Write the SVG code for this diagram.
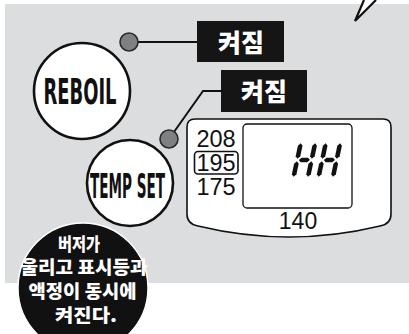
<svg xmlns="http://www.w3.org/2000/svg" width="409" height="334" viewBox="0 0 409 334">
<style>
.bg{fill:#dcdddf}
.btn{fill:#fff;stroke:#111;stroke-width:2.6}
.btxt{font-family:"DejaVu Sans Condensed","DejaVu Sans","Liberation Sans",sans-serif;font-weight:bold;fill:#111;text-anchor:middle}
.dot{fill:#7e8083;stroke:#2a2a2a;stroke-width:1.6}
.lbl{fill:#151515}
.ktxt{font-family:"Noto Sans CJK KR","Noto Sans",sans-serif;font-weight:900;fill:#fff;text-anchor:middle}
.num{font-family:"Liberation Sans",Arial,sans-serif;fill:#111;text-anchor:middle}
.conn{fill:none;stroke:#111;stroke-width:2}
.seg{fill:#111}
</style>
<defs>
<g id="digitH">
<polygon class="seg" points="2.3,0.3 4.6,2.8 4.6,13.2 2.3,15.7 0,13.2 0,2.8"/>
<polygon class="seg" points="2.3,18.3 4.6,20.8 4.6,31.2 2.3,33.7 0,31.2 0,20.8"/>
<polygon class="seg" points="16.7,0.3 19,2.8 19,13.2 16.7,15.7 14.4,13.2 14.4,2.8"/>
<polygon class="seg" points="16.7,18.3 19,20.8 19,31.2 16.7,33.7 14.4,31.2 14.4,20.8"/>
<polygon class="seg" points="4,17 6.2,14.8 12.8,14.8 15,17 12.8,19.2 6.2,19.2"/>
</g>
</defs>
<rect class="bg" x="5" y="4" width="404" height="279"/>
<g id="callout-tail">
<polygon points="364,0 376,0 355,21" fill="#fff"/>
<polyline points="364,0 355,21 376,0" fill="none" stroke="#111" stroke-width="2.2" stroke-linejoin="miter"/>
</g>
<g id="connectors">
<line class="conn" x1="129" y1="42" x2="198" y2="42"/>
<polyline class="conn" points="222,91 203,91 169,139"/>
</g>
<g id="lamp-reboil">
<circle class="dot" cx="129" cy="42" r="9"/>
</g>
<g id="lamp-tempset">
<circle class="dot" cx="169" cy="139" r="9"/>
</g>
<g id="label-on-1">
<rect class="lbl" x="197" y="21" width="87" height="41"/>
<text class="ktxt" x="241" y="52" font-size="25">켜짐</text>
</g>
<g id="label-on-2">
<rect class="lbl" x="221" y="70" width="86" height="42"/>
<text class="ktxt" x="264" y="101" font-size="25">켜짐</text>
</g>
<g id="btn-reboil">
<circle class="btn" cx="82" cy="91" r="48"/>
<text class="btxt" x="80" y="104" font-size="36" textLength="73" lengthAdjust="spacingAndGlyphs">REBOIL</text>
</g>
<g id="btn-tempset">
<circle class="btn" cx="130" cy="183" r="43"/>
<text class="btxt" x="127.5" y="198" font-size="33" textLength="75" lengthAdjust="spacingAndGlyphs">TEMP SET</text>
</g>
<g id="display">
<path d="M195,119 H383 Q391,119 391,127 V214 Q391,224 380,226 Q289,248 198,226 Q187,224 187,214 V127 Q187,119 195,119 Z" fill="#fff" stroke="#111" stroke-width="1.6"/>
<rect x="243" y="124" width="109" height="84" rx="4" fill="#fff" stroke="#111" stroke-width="1.3"/>
<text class="num" x="216" y="147" font-size="23.5">208</text>
<rect x="194.5" y="151.5" width="43.5" height="22.5" rx="3.5" fill="none" stroke="#111" stroke-width="1.6"/>
<text class="num" x="216" y="171" font-size="23.5">195</text>
<text class="num" x="216" y="195" font-size="23.5">175</text>
<text class="num" x="298" y="229" font-size="23">140</text>
<use href="#digitH" transform="translate(298.5,143) skewX(-12)"/>
<use href="#digitH" transform="translate(323.5,143) skewX(-12)"/>
</g>
<g id="note">
<circle cx="83" cy="288" r="65" fill="#111" stroke="#fff" stroke-width="1.5"/>
<text class="ktxt" font-size="18.5" x="79" y="251" textLength="42" lengthAdjust="spacingAndGlyphs">버저가</text>
<text class="ktxt" font-size="18.5" x="84" y="274" textLength="127" lengthAdjust="spacingAndGlyphs">울리고 표시등과</text>
<text class="ktxt" font-size="18.5" x="82.5" y="298" textLength="108" lengthAdjust="spacingAndGlyphs">액정이 동시에</text>
<text class="ktxt" font-size="18.5" x="86" y="322" textLength="62" lengthAdjust="spacingAndGlyphs">켜진다.</text>
</g>
</svg>
